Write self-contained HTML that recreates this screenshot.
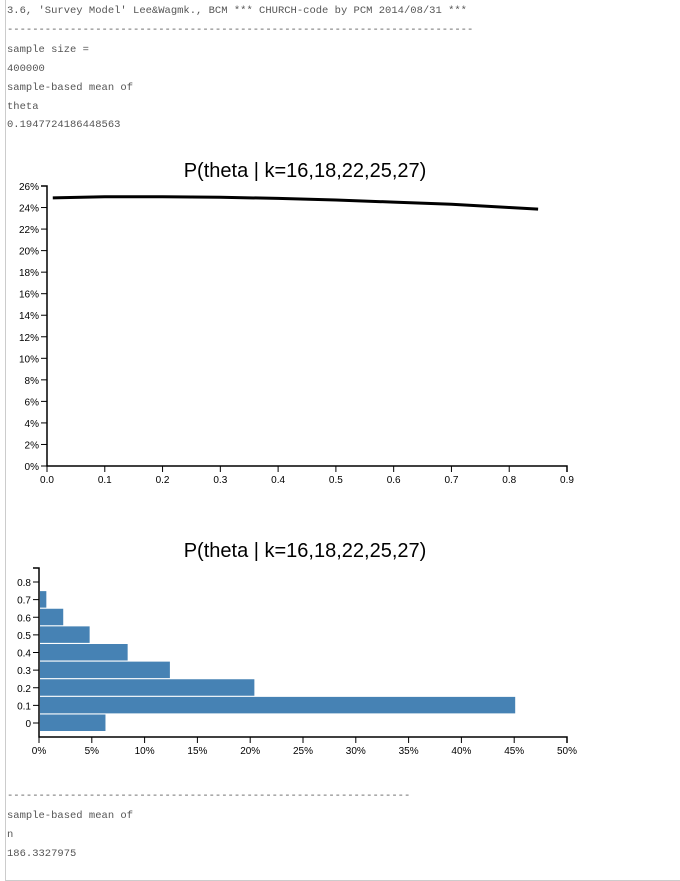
<!DOCTYPE html>
<html><head><meta charset="utf-8"><style>
body{margin:0;width:680px;height:864px;overflow:hidden;background:#fff;font-family:"Liberation Sans",sans-serif}
#frame{position:absolute;left:5px;top:0;width:674px;height:880px;border:1px solid #ccc;border-top:none}
.t{position:absolute;left:7px;font-family:"Liberation Mono",monospace;font-size:10.5px;color:#555;white-space:pre}
svg{position:absolute;left:0;top:0}
</style></head><body>
<div id="frame"></div>
<div class="t" style="top:5px">3.6, 'Survey Model' Lee&amp;Wagmk., BCM *** CHURCH-code by PCM 2014/08/31 ***</div>
<div class="t" style="top:24px">--------------------------------------------------------------------------</div>
<div class="t" style="top:44px">sample size =</div>
<div class="t" style="top:63px">400000</div>
<div class="t" style="top:82px">sample-based mean of</div>
<div class="t" style="top:101px">theta</div>
<div class="t" style="top:119px">0.1947724186448563</div>
<div class="t" style="top:790px">----------------------------------------------------------------</div>
<div class="t" style="top:810px">sample-based mean of</div>
<div class="t" style="top:829px">n</div>
<div class="t" style="top:848px">186.3327975</div>
<svg id="s" width="680" height="864"></svg>
<script>
// line chart data
const lineX=[0.01,0.1,0.2,0.3,0.4,0.5,0.6,0.7,0.8,0.85];
const lineY=[24.9,25.0,25.0,24.95,24.85,24.7,24.5,24.3,24.0,23.85];
const lineYTicks=[0,2,4,6,8,10,12,14,16,18,20,22,24,26];
const lineXTicks=[0,0.1,0.2,0.3,0.4,0.5,0.6,0.7,0.8,0.9];
// bar chart data
const barCats=[0,0.1,0.2,0.3,0.4,0.5,0.6,0.7];
const barVals=[6.2,45,20.3,12.3,8.3,4.7,2.2,0.6];
const barYTicks=[0,0.1,0.2,0.3,0.4,0.5,0.6,0.7,0.8];
const barXTicks=[0,5,10,15,20,25,30,35,40,45,50];

const s=document.getElementById('s');const NS='http://www.w3.org/2000/svg';
function mk(t,a,txt){const e=document.createElementNS(NS,t);for(const k in a)e.setAttribute(k,a[k]);if(txt!==undefined)e.textContent=txt;s.appendChild(e);return e;}

// Line chart
const lx=v=>47+v/0.9*520, ly=v=>466-v/26*280;
let e=mk('text',{x:305,y:177,'text-anchor':'middle','font-size':20,fill:'#000'},'P(theta | k=16,18,22,25,27)');


e=mk('path',{d:'M41,186H47V466H567V472',fill:'none',stroke:'#000','stroke-width':1.5});


lineYTicks.forEach(v=>{
  mk('line',{x1:41,x2:47,y1:ly(v),y2:ly(v),stroke:'#000'});
  e=mk('text',{x:39,y:ly(v)+4,'text-anchor':'end','font-size':10,fill:'#000'},v+'%');
  
  
});
lineXTicks.forEach(v=>{
  mk('line',{x1:lx(v),x2:lx(v),y1:466,y2:472,stroke:'#000'});
  e=mk('text',{x:lx(v),y:483,'text-anchor':'middle','font-size':10,fill:'#000'},v.toFixed(1));
  
  
});
e=mk('path',{d:lineX.map((x,i)=>(i?'L':'M')+lx(x)+','+ly(lineY[i])).join(''),fill:'none',stroke:'#000','stroke-width':3});



// Bar chart
const bx=v=>39+v/50*528, by=v=>723-v/0.8*141;
e=mk('text',{x:305,y:557,'text-anchor':'middle','font-size':20,fill:'#000'},'P(theta | k=16,18,22,25,27)');


barCats.forEach((c,i)=>{
  e=mk('rect',{x:bx(0)+1,y:by(c)-8.5,width:bx(barVals[i])-bx(0),height:16.5,fill:'#4682b4'});
  
  
});
e=mk('path',{d:'M33,568H39V737H567V743',fill:'none',stroke:'#000','stroke-width':1.5});


barYTicks.forEach(v=>{
  mk('line',{x1:33,x2:39,y1:by(v),y2:by(v),stroke:'#000'});
  e=mk('text',{x:31,y:by(v)+4,'text-anchor':'end','font-size':10,fill:'#000'},String(v));
  
  
});
barXTicks.forEach(v=>{
  mk('line',{x1:bx(v),x2:bx(v),y1:737,y2:743,stroke:'#000'});
  e=mk('text',{x:bx(v),y:754,'text-anchor':'middle','font-size':10,fill:'#000'},v+'%');
  
  
});
</script>
</body></html>
